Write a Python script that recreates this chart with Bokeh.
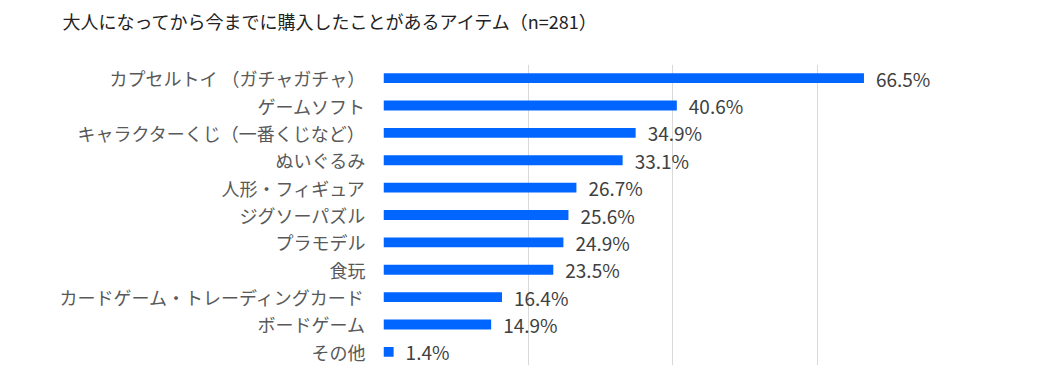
from bokeh.plotting import figure
from bokeh.models import ColumnDataSource, LabelSet, FactorRange
from bokeh.core.properties import value
from bokeh.embed import file_html
from bokeh.resources import INLINE

categories = [
    "カプセルトイ （ガチャガチャ）",
    "ゲームソフト",
    "キャラクターくじ（一番くじなど）",
    "ぬいぐるみ",
    "人形・フィギュア",
    "ジグソーパズル",
    "プラモデル",
    "食玩",
    "カードゲーム・トレーディングカード",
    "ボードゲーム",
    "その他",
]
values = [66.5, 40.6, 34.9, 33.1, 26.7, 25.6, 24.9, 23.5, 16.4, 14.9, 1.4]
labels = [f"{v:.1f}%" for v in values]
title_text = "大人になってから今までに購入したことがあるアイテム（n=281）"
grid_ticks = [0, 20, 40, 60, 80]

FONT = "Noto Sans CJK JP"

src = ColumnDataSource(dict(cat=categories, val=values, lab=labels))

p = figure(
    width=1041, height=382,
    y_range=FactorRange(*reversed(categories), range_padding=0),
    x_range=(0, 80),
    output_backend="svg", toolbar_location=None,
    min_border_left=383, min_border_right=80,
    min_border_top=64, min_border_bottom=17,
    title=title_text + "\n ",
)
p.outline_line_color = None
p.background_fill_color = "white"
p.border_fill_color = "white"

p.title.text_font = FONT
p.title.text_font_size = "18px"
p.title.text_font_style = "normal"
p.title.text_color = "#222222"
p.title.align = "left"
p.title.offset = -321
p.title.standoff = 10

p.hbar(y="cat", right="val", left=0, height=0.36, source=src,
       fill_color="#0066FF", line_color=None)

p.add_layout(LabelSet(x="val", y="cat", text="lab", source=src,
                      x_offset=12, text_baseline="middle",
                      text_font=value(FONT), text_font_size=value("19px"),
                      text_color="#404040"))

p.xaxis.visible = False
p.xgrid.ticker = grid_ticks
p.xgrid.grid_line_color = "#D9D9D9"
p.xgrid.grid_line_width = 1
p.ygrid.grid_line_color = None

ya = p.yaxis[0]
ya.axis_line_color = None
ya.major_tick_line_color = None
ya.minor_tick_line_color = None
ya.major_label_standoff = 12
ya.major_label_text_font = FONT
ya.major_label_text_font_size = "18px"
ya.major_label_text_color = "#595959"

open("out.html", "w").write(file_html(p, INLINE))
